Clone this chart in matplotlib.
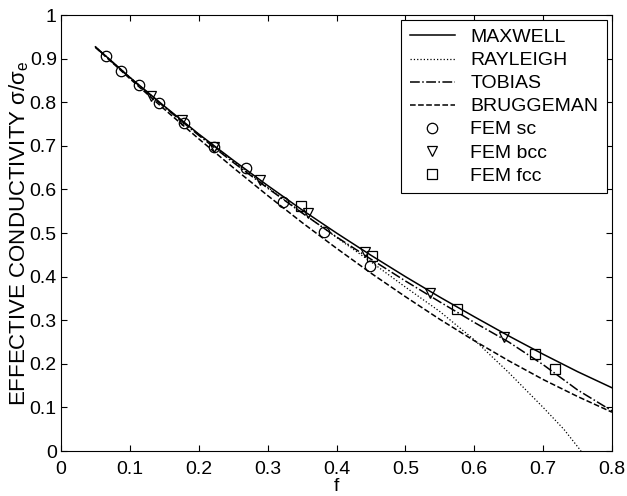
import numpy as np
import matplotlib
matplotlib.use('Agg')
import matplotlib.pyplot as plt

plt.rcParams['font.family'] = ['Liberation Sans', 'DejaVu Sans']
plt.rcParams['mathtext.fontset'] = 'custom'
plt.rcParams['mathtext.rm'] = 'Liberation Sans'
plt.rcParams['mathtext.it'] = 'Liberation Sans'
plt.rcParams['font.size'] = 13

# Model curves
f_curve = [0.05, 0.10, 0.15, 0.20, 0.25, 0.30, 0.35, 0.40, 0.45, 0.50, 0.55, 0.60, 0.65, 0.70, 0.75, 0.80]
maxwell = [0.927, 0.857, 0.791, 0.727, 0.667, 0.609, 0.553, 0.500, 0.449, 0.400, 0.353, 0.308, 0.264, 0.222, 0.182, 0.145]
tobias = [0.926, 0.856, 0.789, 0.724, 0.662, 0.603, 0.546, 0.491, 0.440, 0.390, 0.342, 0.295, 0.250, 0.198, 0.140, 0.092]
bruggeman = [0.926, 0.854, 0.784, 0.716, 0.650, 0.586, 0.524, 0.465, 0.408, 0.354, 0.302, 0.253, 0.207, 0.164, 0.125, 0.089]

f_rayleigh = [0.05, 0.10, 0.15, 0.20, 0.25, 0.30, 0.35, 0.40, 0.45, 0.50, 0.55, 0.60, 0.65, 0.70, 0.73, 0.755]
rayleigh = [0.927, 0.857, 0.790, 0.726, 0.665, 0.605, 0.547, 0.490, 0.434, 0.376, 0.320, 0.255, 0.180, 0.100, 0.050, 0.0]

# FEM results
f_sc = [0.066, 0.087, 0.113, 0.143, 0.179, 0.222, 0.268, 0.322, 0.382, 0.448]
sc = [0.906, 0.872, 0.839, 0.799, 0.752, 0.698, 0.648, 0.572, 0.503, 0.425]
f_bcc = [0.130, 0.175, 0.222, 0.289, 0.358, 0.442, 0.536, 0.643]
bcc = [0.814, 0.759, 0.698, 0.622, 0.546, 0.457, 0.363, 0.261]
f_fcc = [0.348, 0.451, 0.575, 0.688, 0.717]
fcc = [0.562, 0.447, 0.326, 0.222, 0.189]

fig = plt.figure(figsize=(6.27, 4.96), dpi=100)
ax = fig.add_axes([0.0973, 0.0907, 0.8788, 0.879])

ax.plot(f_curve, maxwell, '-', color='k', lw=1.1, label='MAXWELL')
ax.plot(f_rayleigh, rayleigh, ':', color='k', lw=0.9, label='RAYLEIGH')
ax.plot(f_curve, tobias, '-.', color='k', lw=1.1, label='TOBIAS')
ax.plot(f_curve, bruggeman, '--', color='k', lw=1.1, label='BRUGGEMAN')
ax.plot(f_sc, sc, 'o', mfc='none', mec='k', ms=7.5, mew=0.9, label='FEM sc')
ax.plot(f_bcc, bcc, 'v', mfc='none', mec='k', ms=7.5, mew=0.9, label='FEM bcc')
ax.plot(f_fcc, fcc, 's', mfc='none', mec='k', ms=7, mew=0.9, label='FEM fcc')

ax.set_xlim(0, 0.8)
ax.set_ylim(0, 1)
ax.set_xticks(np.arange(0, 0.81, 0.1))
ax.set_yticks(np.arange(0, 1.01, 0.1))
ax.set_xticklabels(['0', '0.1', '0.2', '0.3', '0.4', '0.5', '0.6', '0.7', '0.8'])
ax.set_yticklabels(['0', '0.1', '0.2', '0.3', '0.4', '0.5', '0.6', '0.7', '0.8', '0.9', '1'])
ax.tick_params(direction='in', top=True, right=True, length=4, labelsize=14)
ax.tick_params(axis='x', pad=7)
ax.tick_params(axis='y', pad=3)
for s in ax.spines.values():
    s.set_linewidth(0.8)

ax.set_xlabel('f', fontsize=14, labelpad=0)
ax.set_ylabel('EFFECTIVE CONDUCTIVITY $\\sigma/\\sigma_e$', fontsize=16, labelpad=-1)

leg = ax.legend(loc='upper right', fancybox=False, edgecolor='k', framealpha=1,
                fontsize=14, handlelength=2.3, labelspacing=0.28,
                borderaxespad=0.25, borderpad=0.45, handletextpad=0.8)
leg.get_frame().set_linewidth(0.8)

fig.savefig('out.png', dpi=100, facecolor='white')
